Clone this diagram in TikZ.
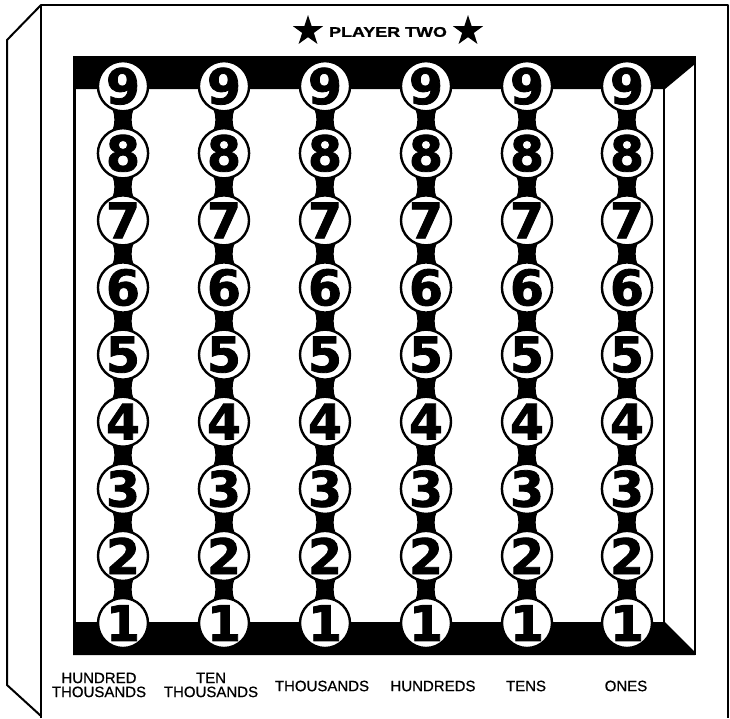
\documentclass[tikz,border=0pt]{standalone}
\usepackage{fontspec}
\setmainfont{Liberation Sans}
\newfontfamily\digitfont[FakeBold=1.6]{DejaVu Sans Bold}
\newfontfamily\headfont[FakeStretch=1.28,FakeBold=1.2]{Liberation Sans Bold}
\newfontfamily\placefont[FakeBold=0.7]{Liberation Sans}
\usepackage{tikz}
\usetikzlibrary{shapes.geometric, backgrounds}

\tikzset{
  bead/.style={circle, draw=black, fill=white, line width=2.4pt, minimum size=50pt,
    inner sep=0pt, font=\digitfont\fontsize{49}{49}\selectfont},
  rim/.style={line width=2pt, line join=round},
  place/.style={font=\placefont\fontsize{15}{14}\selectfont, align=center},
  starmark/.style={star, star points=5, star point ratio=2.6, fill=black,
    minimum size=32pt, inner sep=0pt}
}

\begin{document}
\begin{tikzpicture}[x=1pt, y=-1pt]
  \useasboundingbox (0,0) rectangle (730,718);

  % cabinet
  \draw[rim] (41,718) -- (41,5) -- (728,5) -- (728,718);
  \draw[rim] (41,5) -- (7,40) -- (7,685) -- (41,716);

  % tray
  \fill (73,56) -- (695,56) -- (695,64) -- (665,89) -- (73,89) -- cycle;
  \fill (73,622) -- (665,622) -- (695,652) -- (695,655) -- (73,655) -- cycle;
  \draw[line width=2.5pt] (74.5,89) -- (74.5,622);
  \draw[line width=2pt] (664,89) -- (664,622);
  \draw[line width=2pt] (695,56) -- (695,655);

  % heading
  \node[font=\headfont\fontsize{14}{14}\selectfont] (title) at (388,32) {PLAYER TWO};
  \node[starmark] (starL) at (308,31) {};
  \node[starmark] (starR) at (468,31) {};

  % beads
  \foreach \c [count=\i] in {123,224,325,426,527,627}
    \foreach \d in {1,...,9}
      \node[bead] (b\i-\d) at (\c,{623-67.1*(\d-1)}) {\d};

  % necks between beads
  \begin{scope}[on background layer]
    \foreach \i in {1,...,6}
      \foreach \d [count=\e from 2] in {1,...,8}
        \fill ([xshift=-10.5pt,yshift=-3pt]b\i-\d.north)
          .. controls ([xshift=-8pt,yshift=3pt]b\i-\d.north) and ([xshift=-8pt,yshift=-3pt]b\i-\e.south)
          .. ([xshift=-10.5pt,yshift=3pt]b\i-\e.south)
          -- ([xshift=10.5pt,yshift=3pt]b\i-\e.south)
          .. controls ([xshift=8pt,yshift=-3pt]b\i-\e.south) and ([xshift=8pt,yshift=3pt]b\i-\d.north)
          .. ([xshift=10.5pt,yshift=-3pt]b\i-\d.north) -- cycle;
  \end{scope}

  % place values
  \node[place] (hth) at (99,685) {HUNDRED\\THOUSANDS};
  \node[place] (tth) at (211,685) {TEN\\THOUSANDS};
  \node[place] (th) at (322,686) {THOUSANDS};
  \node[place] (hu) at (433,686) {HUNDREDS};
  \node[place] (te) at (526,686) {TENS};
  \node[place] (on) at (626,686) {ONES};
\end{tikzpicture}
\end{document}
